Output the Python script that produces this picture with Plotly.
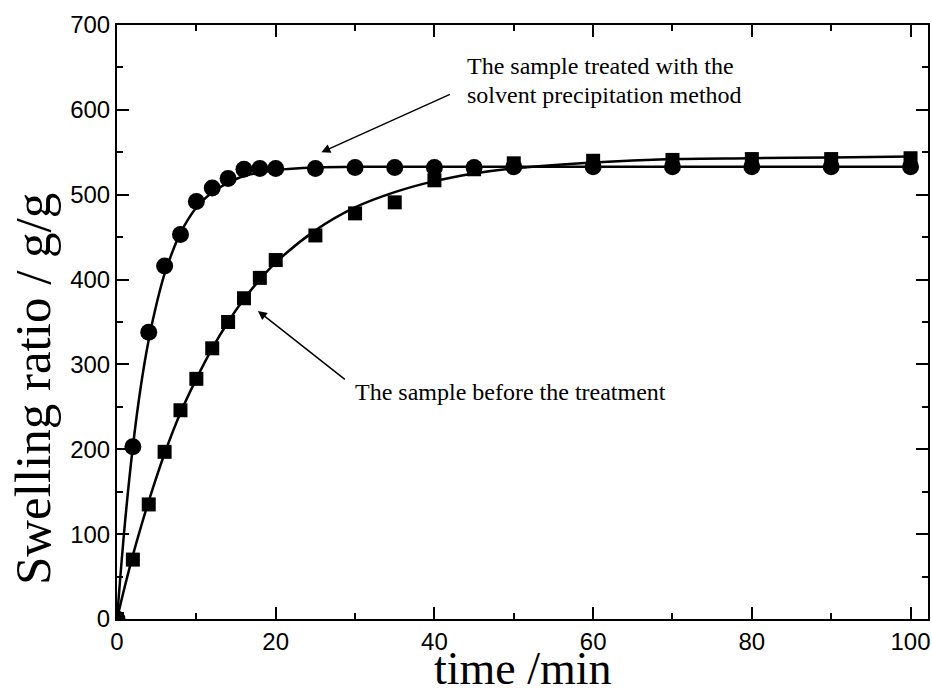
import plotly.graph_objects as go

t_treated = [0, 2, 4, 6, 8, 10, 12, 14, 16, 18, 20, 25, 30, 35, 40, 45, 50, 60, 70, 80, 90, 100]
s_treated = [0, 203, 338, 416, 453, 492, 508, 519, 530, 531, 531, 531, 532, 532, 532, 532, 533, 533, 533, 533, 533, 533]

t_before = [0, 2, 4, 6, 8, 10, 12, 14, 16, 18, 20, 25, 30, 35, 40, 45, 50, 60, 70, 80, 90, 100]
s_before = [0, 70, 135, 197, 246, 283, 319, 350, 378, 402, 423, 452, 478, 491, 517, 530, 537, 540, 541, 542, 542, 543]

# Fitted curves
fit_t_treated = [0, 1, 2, 3, 4, 5, 6, 7, 8, 10, 12, 14, 16, 18, 20, 25, 30, 40, 50, 60, 80, 100]
fit_s_treated = [0, 113, 203, 274, 329, 372, 407, 433, 455, 485, 503, 514, 522, 526, 529, 532, 533, 533, 533, 533, 533, 533]

fit_t_before = [0, 1, 2, 3, 4, 6, 8, 10, 12, 14, 16, 18, 20, 25, 30, 35, 40, 45, 50, 60, 70, 80, 90, 100]
fit_s_before = [0, 39, 75, 108, 139, 195, 243, 283, 319, 350, 377, 400, 420, 458, 485, 503, 516, 525, 531, 538, 542, 543, 544, 545]

fig = go.Figure()
fig.add_trace(go.Scatter(x=fit_t_treated, y=fit_s_treated, mode="lines", line=dict(color="black", width=2.5, shape="spline"), showlegend=False))
fig.add_trace(go.Scatter(x=fit_t_before, y=fit_s_before, mode="lines", line=dict(color="black", width=2.5, shape="spline"), showlegend=False))
fig.add_trace(go.Scatter(x=t_treated, y=s_treated, mode="markers", marker=dict(symbol="circle", size=17, color="black"), showlegend=False))
fig.add_trace(go.Scatter(x=t_before, y=s_before, mode="markers", marker=dict(symbol="square", size=14, color="black"), showlegend=False))

serif = "Liberation Serif, Times New Roman, serif"
sans = "Liberation Sans, Arial, sans-serif"

fig.add_annotation(x=25.75, y=550, ax=42.14, ay=619, xref="x", yref="y", axref="x", ayref="y",
                   text="", showarrow=True, arrowhead=2, arrowsize=1.2, arrowwidth=1.5, arrowcolor="black")
fig.add_annotation(x=17.76, y=363, ax=28.9, ay=281, xref="x", yref="y", axref="x", ayref="y",
                   text="", showarrow=True, arrowhead=2, arrowsize=1.2, arrowwidth=1.5, arrowcolor="black")
fig.add_annotation(x=43.8, y=652, xref="x", yref="y", xanchor="left", yanchor="middle", showarrow=False,
                   text="The sample treated with the", font=dict(family=serif, size=24, color="black"))
fig.add_annotation(x=43.8, y=617, xref="x", yref="y", xanchor="left", yanchor="middle", showarrow=False,
                   text="solvent precipitation method", font=dict(family=serif, size=24, color="black"))
fig.add_annotation(x=29.7, y=267, xref="x", yref="y", xanchor="left", yanchor="middle", showarrow=False,
                   text="The sample before the treatment", font=dict(family=serif, size=24, color="black"))

# Axis titles
fig.add_annotation(x=0.5, y=-0.1289, xref="paper", yref="paper", xanchor="center", yanchor="bottom", showarrow=False,
                   text="time /min", font=dict(family=serif, size=46, color="black"))
fig.add_annotation(x=0, y=0.387, xref="paper", yref="paper", xshift=-84, xanchor="center", yanchor="middle",
                   showarrow=False, textangle=-90,
                   text="Swelling ratio / g/g", font=dict(family=serif, size=51, color="black"))

axis_common = dict(showline=True, linecolor="black", linewidth=2, mirror="allticks", ticks="inside",
                   ticklen=12, tickwidth=2, tickcolor="black", showgrid=False, zeroline=False,
                   automargin=False,
                   tickfont=dict(family=sans, size=24, color="black"))

fig.update_xaxes(range=[0, 102.2], dtick=20, tick0=0,
                 minor=dict(ticks="inside", ticklen=6, tickwidth=2, dtick=10, tickcolor="black"),
                 **axis_common)
fig.update_yaxes(range=[0, 700], dtick=100, tick0=0,
                 minor=dict(ticks="inside", ticklen=6, tickwidth=2, dtick=50, tickcolor="black"),
                 **axis_common)

fig.update_layout(width=932, height=695, margin=dict(l=117, r=4, t=25, b=76),
                  plot_bgcolor="white", paper_bgcolor="white")

# Remove the page's default body margin so the figure fills the window exactly
fig.write_html("out.html", config={"displayModeBar": False},
               post_script="document.body.style.margin='0';document.body.style.overflow='hidden';")
